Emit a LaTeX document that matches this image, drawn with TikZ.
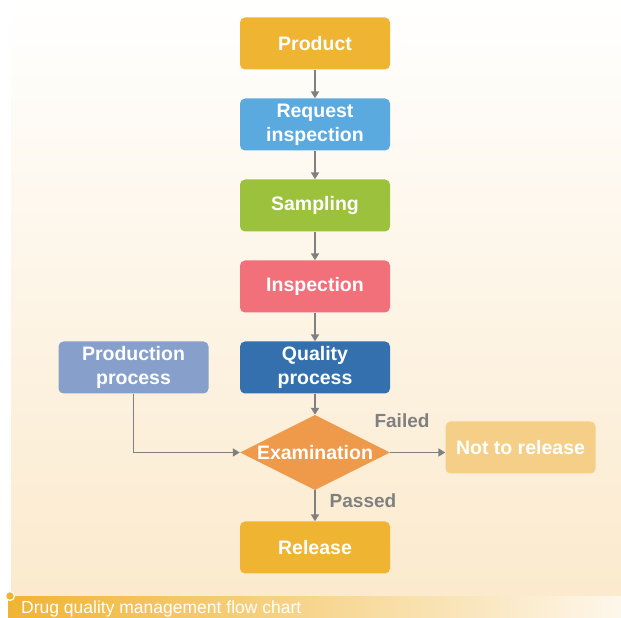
\documentclass[tikz,border=0pt]{standalone}
\usepackage{fontspec}
\setmainfont{Liberation Sans}
\usetikzlibrary{arrows.meta,shapes.geometric}

\definecolor{prodcol}{HTML}{F0B433}
\definecolor{reqcol}{HTML}{5BAADF}
\definecolor{sampcol}{HTML}{9CC23D}
\definecolor{inspcol}{HTML}{F2707A}
\definecolor{qualcol}{HTML}{3570AE}
\definecolor{examcol}{HTML}{EE9A4A}
\definecolor{pprocol}{HTML}{869FCB}
\definecolor{notcol}{HTML}{F5CF87}
\definecolor{linecol}{HTML}{808080}
\definecolor{paper}{HTML}{FBEACD}

\begin{document}
\begin{tikzpicture}[x=1pt,y=1pt,
  box/.style={rounded corners=5pt,minimum width=150pt,minimum height=52pt,inner sep=0pt,
    align=center,text=white,font=\fontsize{19.5}{24}\selectfont\bfseries},
  flow/.style={draw=linecol,line width=1.8pt,-{Triangle[width=8pt,length=7pt]}},
  tag/.style={text=linecol,font=\fontsize{19}{22}\selectfont\bfseries}]
\useasboundingbox (0,0) rectangle (621,618);
%background
\shade[top color=white,bottom color=paper] (11,22) rectangle (621,618);
\shade[left color=prodcol,middle color=prodcol!80!white,right color=paper!40!white] (8,0) rectangle (621,21);
\filldraw[fill=prodcol,draw=white,line width=1.2pt] (10,22) circle (4.5pt);
\node[anchor=base west,text=white,inner sep=0pt,font=\fontsize{17.5}{20}\selectfont] (cap) at (21,4.5) {Drug quality management flow chart};

%main column
\node[box,fill=prodcol] (product) at (315,574.5) {Product};
\node[box,fill=reqcol] (request) at (315,493.5) {Request\\inspection};
\node[box,fill=sampcol] (sampling) at (315,412.5) {Sampling};
\node[box,fill=inspcol] (inspection) at (315,331.5) {Inspection};
\node[box,fill=qualcol] (quality) at (315,250.5) {Quality\\process};
\node[diamond,fill=examcol,minimum width=150pt,minimum height=75pt,inner sep=0pt,
  label={[text=white,font=\fontsize{19.5}{24}\selectfont\bfseries]center:Examination}] (exam) at (315,165.5) {};
\node[box,fill=prodcol] (release) at (315,70.5) {Release};

%side boxes
\node[box,fill=pprocol] (production) at (133.5,250.5) {Production\\process};
\node[box,fill=notcol] (notrelease) at (520.5,170.5) {Not to release};

\draw[flow] (product) -- (request);
\draw[flow] (request) -- (sampling);
\draw[flow] (sampling) -- (inspection);
\draw[flow] (inspection) -- (quality);
\draw[flow] (quality) -- (exam);
\draw[flow] (exam) -- (release);
\draw[flow] (production) |- (exam);
\draw[flow] (exam) -- (exam.east -| notrelease.west);

\node[tag] (failed) at (402,197) {Failed};
\node[tag] (passed) at (363,117) {Passed};

\end{tikzpicture}
\end{document}
